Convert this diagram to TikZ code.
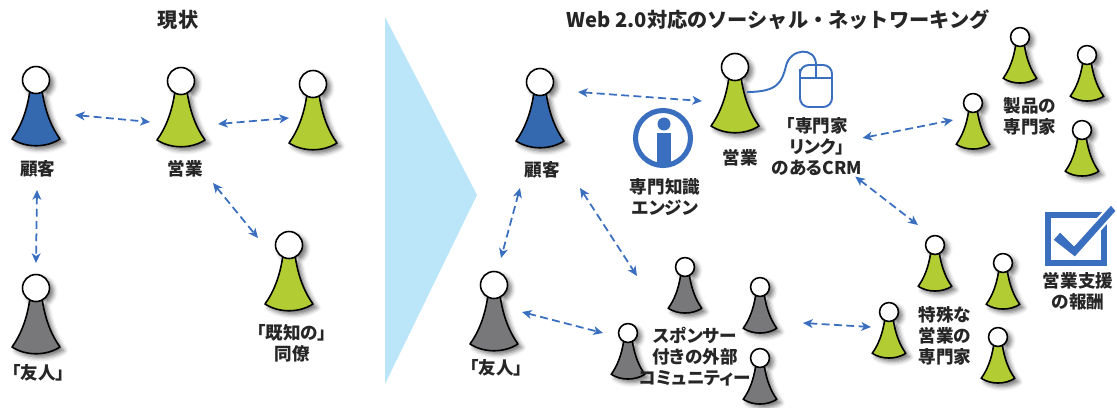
\documentclass[tikz,border=0pt]{standalone}
\usepackage{fontspec}
\setmainfont{Noto Sans CJK JP}
\newfontfamily\lblfont{Noto Sans CJK JP}[RawFeature=+palt]
\usetikzlibrary{arrows.meta,shadows.blur}

\definecolor{custblue}{RGB}{52,105,176}
\definecolor{salesgreen}{RGB}{178,204,52}
\definecolor{friendgray}{RGB}{120,120,122}
\definecolor{linkblue}{RGB}{58,110,190}
\definecolor{shiftcyan}{RGB}{187,229,248}

\begin{document}
\begin{tikzpicture}[x=0.02cm, y=-0.02cm,
    lbl/.style={align=center, inner sep=0pt, text=black!85, font=\lblfont\fontsize{10}{12}\selectfont\bfseries},
    title/.style={inner sep=0pt, text=black!85, font=\fontsize{11.5}{14}\selectfont\bfseries},
    link/.style={linkblue, line width=1pt, dash pattern=on 4.5pt off 2.5pt,
        {Stealth[length=5.5pt,width=5pt,inset=1.5pt]}-{Stealth[length=5.5pt,width=5pt,inset=1.5pt]}},
    small/.style={scale=0.7},
    pics/pawn/.style={code={
        \path[blur shadow={shadow xshift=2.2pt, shadow yshift=-2pt, shadow blur radius=2.5pt, shadow opacity=55}]
            (0,0) circle (13.5)
            (-6,10) .. controls (-9,32) and (-16,48) .. (-24,59)
            .. controls (-10,68) and (10,68) .. (24,59)
            .. controls (16,48) and (9,32) .. (6,10) -- cycle;
        \draw[fill=#1, line width=0.9pt, line join=round]
            (-6,10) .. controls (-9,32) and (-16,48) .. (-24,59)
            .. controls (-10,68) and (10,68) .. (24,59)
            .. controls (16,48) and (9,32) .. (6,10) -- cycle;
        \draw[fill=white, line width=0.9pt] (0,0) circle (13.5);
    }}]
\useasboundingbox (0,0) rectangle (1117,407);

% big arrow between the two halves
\fill[shiftcyan] (385,17) -- (477,195) -- (385,384) -- cycle;

% titles
\node[title] (nowtitle) at (178,20) {現状};
\node[title] (webtitle) at (778,20) {Web 2.0対応のソーシャル・ネットワーキング};

% left half: today
\coordinate (lcust) at (36,80);
\coordinate (lsales) at (181,81);
\coordinate (lpeer) at (313,84);
\coordinate (lfriend) at (36,288);
\coordinate (lcolleague) at (289,245);
\pic at (lcust) {pawn=custblue};
\pic at (lsales) {pawn=salesgreen};
\pic at (lpeer) {pawn=salesgreen};
\pic at (lfriend) {pawn=friendgray};
\pic at (lcolleague) {pawn=salesgreen};
\node[lbl] (lcustname) at (38,169) {顧客};
\node[lbl] (lsalesname) at (185,169) {営業};
\node[lbl] (lfriendname) at (38,373) {「友人」};
\node[lbl] (lcolleaguename) at (292,343) {「既知の」\\同僚};

\draw[link] ([shift={(39,35)}]lcust) -- ([shift={(-31,41)}]lsales);
\draw[link] ([shift={(37,43)}]lsales) -- ([shift={(-24,34)}]lpeer);
\draw[link] ([shift={(1,110)}]lcust) -- ([shift={(0,-25)}]lfriend);
\draw[link] ([shift={(32,102)}]lsales) -- ([shift={(-31,-7)}]lcolleague);

% right half: customer, sales and friend
\coordinate (rcust) at (540,82);
\coordinate (rsales) at (735,67);
\coordinate (rfriend) at (494,285);
\pic at (rcust) {pawn=custblue};
\pic at (rsales) {pawn=salesgreen};
\pic at (rfriend) {pawn=friendgray};
\node[lbl] (rcustname) at (542,170) {顧客};
\node[lbl] (rsalesname) at (740,158) {営業};
\node[lbl] (rfriendname) at (496,368) {「友人」};

% mouse wired to the sales pawn
\draw[linkblue, line width=1.1pt] (747,92) .. controls (778,92) and (782,82) .. (786,66)
    .. controls (790,48) and (816,46) .. (816,65);
\draw[linkblue, line width=1.1pt, rounded corners=5pt] (800,78) -- (800,65) -- (832,65) -- (832,107) -- (800,107) -- cycle;
\draw[linkblue, line width=1.1pt] (800,78) -- (832,78) (816,65) -- (816,78);
\node[lbl] (crm) at (817,147) {「専門家\\リンク」\\のあるCRM};

% information icon
\draw[linkblue, line width=2.9pt] (663,138) circle (27.5);
\fill[linkblue] (664,124) circle (6.5);
\fill[linkblue] (657,133) rectangle (671,163);
\node[lbl] (infoname) at (665,197) {専門知識\\エンジン};

% sponsored community
\coordinate (com1) at (685,267);
\coordinate (com2) at (760,287);
\coordinate (com3) at (628,333);
\coordinate (com4) at (760,358);
\foreach \p in {com1,com2,com3,com4}
    \pic[small] at (\p) {pawn=friendgray};
\node[lbl] (comname) at (695,357) {スポンサー\\付きの外部\\コミュニティー};

% special sales experts
\coordinate (spec1) at (935,245);
\coordinate (spec2) at (889,312);
\coordinate (spec3) at (1003,263);
\coordinate (spec4) at (998,337);
\foreach \p in {spec1,spec2,spec3,spec4}
    \pic[small] at (\p) {pawn=salesgreen};
\node[lbl] (specname) at (945,336) {特殊な\\営業の\\専門家};

% product experts
\coordinate (prod1) at (1020,37);
\coordinate (prod2) at (1087,55);
\coordinate (prod3) at (973,103);
\coordinate (prod4) at (1082,130);
\foreach \p in {prod1,prod2,prod3,prod4}
    \pic[small] at (\p) {pawn=salesgreen};
\node[lbl] (prodname) at (1030,116) {製品の\\専門家};

% reward check box
\draw[linkblue, line width=3.2pt] (1048,215) rectangle (1104,263);
\filldraw[fill=linkblue, draw=white, line width=1.2pt, line join=round]
    (1052,240) -- (1060,231) -- (1074,245) -- (1111,204) -- (1117,211) -- (1075,258) -- cycle;
\node[lbl] (rewardname) at (1078,291) {営業支援\\の報酬};

% links on the right
\draw[link] ([shift={(38,10)}]rcust) -- ([shift={(-33,34)}]rsales);
\draw[link] ([shift={(-20,106)}]rcust) -- ([shift={(7,-27)}]rfriend);
\draw[link] ([shift={(40,106)}]rcust) -- ([shift={(-48,9)}]com1);
\draw[link] ([shift={(28,27)}]rfriend) -- ([shift={(-25,0)}]com3);
\draw[link] ([shift={(43,36)}]com2) -- ([shift={(-18,15)}]spec2);
\draw[link] ([shift={(59,-21)}]crm) -- ([shift={(-20,17)}]prod3);
\draw[link] ([shift={(49,13)}]crm) -- ([shift={(-17,-20)}]spec1);
\end{tikzpicture}
\end{document}
